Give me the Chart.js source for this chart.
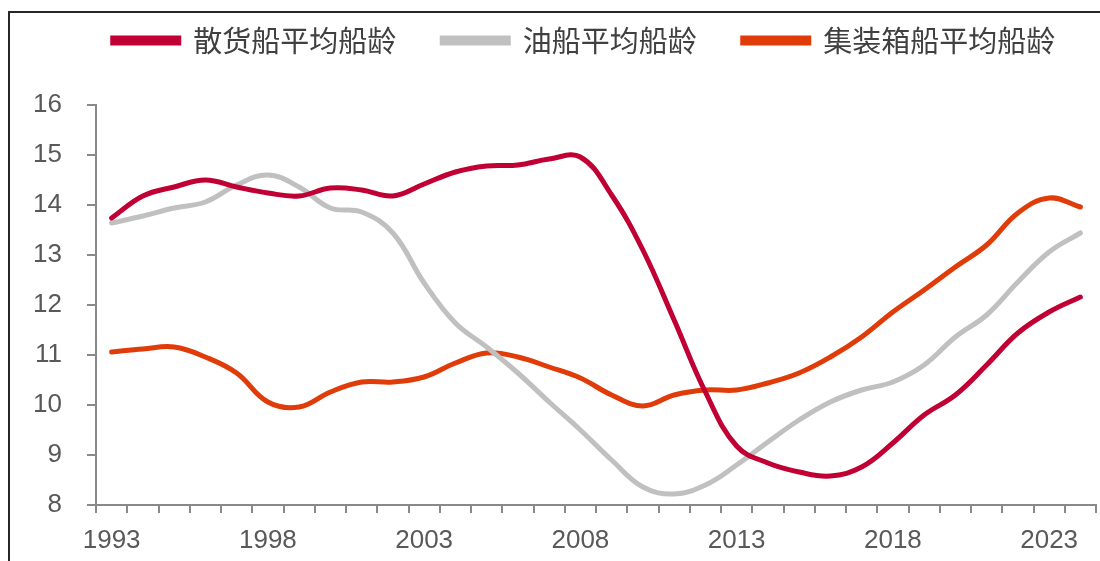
<!DOCTYPE html>
<html>
<head>
<meta charset="utf-8">
<script src="https://cdn.jsdelivr.net/npm/chart.js@4"></script>
<style>
  html, body { margin: 0; padding: 0; background: #fff; }
  #wrap { position: relative; width: 1100px; height: 561px; overflow: hidden; }
  #frame { position: absolute; left: 8px; top: 11px; width: 1092px; height: 550px;
           border-top: 2px solid #262626; border-left: 2px solid #262626; }
  canvas { position: absolute; left: 0; top: 0; }
</style>
</head>
<body>
<div id="wrap">
  <div id="frame"></div>
  <canvas id="ageChart" width="1100" height="561"></canvas>
</div>
<script>
// years on the x axis
var years = ['1993','1994','1995','1996','1997','1998','1999','2000','2001','2002',
             '2003','2004','2005','2006','2007','2008','2009','2010','2011','2012',
             '2013','2014','2015','2016','2017','2018','2019','2020','2021','2022',
             '2023','2024'];

// 散货船平均船龄
var bulkAge = [13.74, 14.18, 14.36, 14.50, 14.36, 14.24, 14.18, 14.34, 14.30, 14.18,
               14.42, 14.66, 14.78, 14.80, 14.92, 14.96, 14.20, 13.10, 11.70, 10.26,
               9.18, 8.84, 8.66, 8.58, 8.76, 9.24, 9.80, 10.20, 10.80, 11.44,
               11.86, 12.16];

// 油船平均船龄
var tankerAge = [13.64, 13.78, 13.94, 14.06, 14.40, 14.60, 14.36, 13.94, 13.86, 13.44,
                 12.44, 11.64, 11.16, 10.64, 10.06, 9.50, 8.90, 8.36, 8.22, 8.40,
                 8.80, 9.26, 9.70, 10.06, 10.30, 10.46, 10.80, 11.36, 11.80, 12.46,
                 13.06, 13.44];

// 集装箱船平均船龄
var boxAge = [11.06, 11.12, 11.16, 10.96, 10.64, 10.06, 9.96, 10.26, 10.46, 10.46,
              10.56, 10.84, 11.04, 10.96, 10.76, 10.54, 10.20, 9.98, 10.20, 10.30,
              10.30, 10.44, 10.64, 10.96, 11.36, 11.86, 12.30, 12.76, 13.20, 13.84,
              14.14, 13.96];

var seriesNames = ['散货船平均船龄', '油船平均船龄', '集装箱船平均船龄'];
var yTicks = [8, 9, 10, 11, 12, 13, 14, 15, 16];

var axisColor = '#898989';
var textColor = '#595959';

// legend keeps its row near the top and a bit right of centre,
// plot area starts lower
var legendSpace = {
    id: 'legendSpace',
    afterInit: function(chart) {
        var legend = chart.legend;
        var fit = legend.fit;
        legend.fit = function() {
            fit.call(this);
            this.height = 125;
        };
    },
    beforeDraw: function(chart) {
        chart.legend.left = 58;
        chart.legend.right = 1110;
    }
};

window.addEventListener('DOMContentLoaded', function() {
    var ctx = document.getElementById('ageChart').getContext('2d');
    var ageChart = new Chart(ctx, {
        type: 'line',
        data: {
            labels: years,
            datasets: [{
                label: seriesNames[0],
                data: bulkAge,
                borderColor: '#C00034',
                backgroundColor: '#C00034'
            }, {
                label: seriesNames[1],
                data: tankerAge,
                borderColor: '#C0C0C0',
                backgroundColor: '#C0C0C0'
            }, {
                label: seriesNames[2],
                data: boxAge,
                borderColor: '#E03C0A',
                backgroundColor: '#E03C0A'
            }]
        },
        options: {
            responsive: false,
            animation: false,
            devicePixelRatio: 1,
            elements: {
                line: { borderWidth: 5, tension: 0.4, borderCapStyle: 'round', fill: false },
                point: { radius: 0, hoverRadius: 0 }
            },
            layout: { padding: { left: 0, right: 4, top: -20, bottom: 0 } },
            plugins: {
                tooltip: { enabled: false },
                legend: {
                    position: 'top',
                    labels: {
                        boxWidth: 66,
                        boxHeight: 5,
                        padding: 46,
                        color: '#404040',
                        font: { family: "'Noto Sans CJK SC'", size: 29 }
                    }
                }
            },
            scales: {
                x: {
                    type: 'category',
                    offset: true,
                    afterFit: function(scale) { scale.height = 56; },
                    border: { display: true, color: axisColor, width: 2 },
                    grid: { display: true, offset: true, drawOnChartArea: false, drawTicks: true,
                            tickLength: 8, color: axisColor, lineWidth: 2 },
                    ticks: {
                        autoSkip: false,
                        maxRotation: 0,
                        padding: 12,
                        color: textColor,
                        font: { family: "'Liberation Sans', Arial", size: 26 },
                        callback: function(val, idx) {
                            return idx % 5 === 0 ? years[idx] : '';
                        }
                    }
                },
                y: {
                    min: 8,
                    max: 16,
                    afterFit: function(scale) { scale.width = 96; },
                    afterBuildTicks: function(scale) {
                        scale.ticks = yTicks.map(function(v) { return { value: v }; });
                    },
                    border: { display: true, color: axisColor, width: 2 },
                    grid: { display: true, drawOnChartArea: false, drawTicks: true,
                            tickLength: 9, color: axisColor, lineWidth: 2 },
                    ticks: {
                        padding: 25,
                        color: textColor,
                        font: { family: "'Liberation Sans', Arial", size: 26 }
                    }
                }
            }
        },
        plugins: [legendSpace]
    });
});
</script>
</body>
</html>
